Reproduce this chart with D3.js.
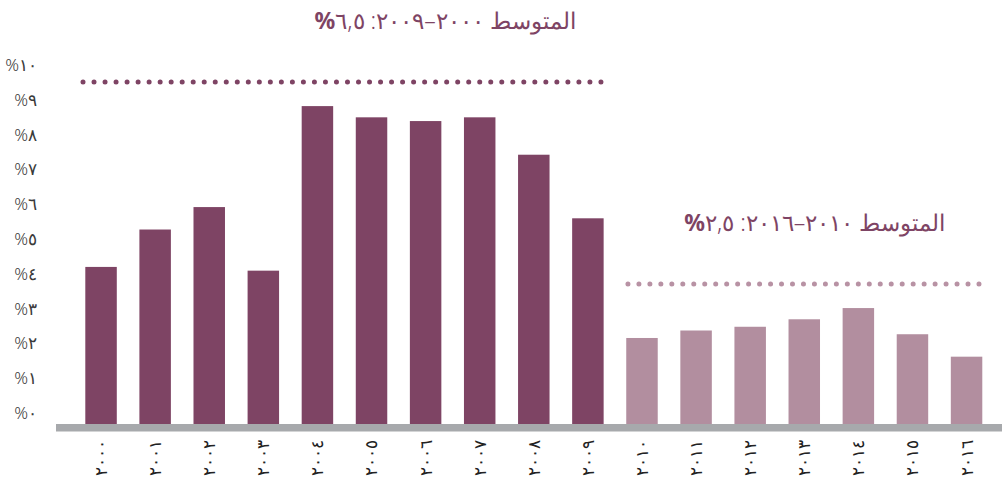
<!DOCTYPE html>
<html lang="ar">
<head>
<meta charset="utf-8">
<script src="https://d3js.org/d3.v7.min.js"></script>
<style>
    body { margin: 0; background: #fff; }
    #chart-area { width: 1002px; height: 489px; }
    text { font-family: "Noto Sans", "DejaVu Sans", sans-serif; font-weight: 300; }
</style>
</head>
<body>
<div id="chart-area"></div>
<script>
// growth per year (%)
let years = [2000, 2001, 2002, 2003, 2004, 2005, 2006, 2007, 2008, 2009,
             2010, 2011, 2012, 2013, 2014, 2015, 2016];
let growth = [4.2, 5.2, 5.8, 4.1, 8.5, 8.2, 8.1, 8.2, 7.2, 5.5,
              2.3, 2.5, 2.6, 2.8, 3.1, 2.4, 1.8];
let periods = [[2000, 2009], [2010, 2016]];
let avgLabel = "المتوسط";
let yTicks = [0, 1, 2, 3, 4, 5, 6, 7, 8, 9, 10];

/* * * * * * * * * * * * * *
*        GrowthVis         *
* * * * * * * * * * * * * */

class GrowthVis {
    constructor(parentElement) {
        this.parentElement = parentElement;
        this.initVis();
    }

    initVis() {
        let vis = this;

        vis.width = 1002;
        vis.height = 489;

        vis.svg = d3.select("#" + vis.parentElement).append("svg")
            .attr("width", vis.width)
            .attr("height", vis.height);

        vis.colors = ["#7e4464", "#b28e9f"];
        vis.dotColors = ["#7e4464", "#b892a4"];
        // how far the average label sits in from the right end of its group
        vis.labelInset = [28, 37];

        vis.data = years.map((d, i) => ({year: d, value: growth[i], group: d < periods[1][0] ? 0 : 1}));

        // scales
        vis.x = d3.scaleBand()
            .domain(years)
            .range([74, 993.6])
            .paddingInner(0.418)
            .paddingOuter(0.209);

        vis.y = d3.scaleLinear()
            .domain([0, 10])
            .range([424, 50]);

        // tick labels sit on their own spacing in the original
        vis.yLabels = d3.scaleLinear()
            .domain([0, 10])
            .range([413, 65]);

        vis.wrangleData();
    }

    toArabic(str) {
        return String(str).replace(/[0-9]/g, c => "٠١٢٣٤٥٦٧٨٩"[+c]).replace(".", ",");
    }

    wrangleData() {
        let vis = this;

        vis.groups = periods.map((p, i) => {
            let rows = vis.data.filter(d => d.year >= p[0] && d.year <= p[1]);
            return {
                start: p[0],
                end: p[1],
                index: i,
                avg: d3.mean(rows, d => d.value),
                max: d3.max(rows, d => d.value)
            };
        });

        vis.updateVis();
    }

    updateVis() {
        let vis = this;

        // y axis labels
        let yAxis = d3.axisLeft(vis.yLabels)
            .tickValues(yTicks)
            .tickSize(0)
            .tickPadding(0)
            .tickFormat(d => vis.toArabic(d) + "%");

        vis.svg.append("g")
            .attr("class", "y-axis")
            .attr("transform", "translate(37,0)")
            .call(yAxis)
            .call(g => g.select(".domain").remove())
            .selectAll("text")
            .attr("direction", "rtl")
            .attr("text-anchor", "start")
            .attr("fill", "#3a3a3a")
            .style("font-size", "17px");

        // bars
        vis.svg.selectAll(".bar")
            .data(vis.data)
            .enter().append("rect")
            .attr("class", "bar")
            .attr("x", d => vis.x(d.year))
            .attr("y", d => vis.y(d.value))
            .attr("width", vis.x.bandwidth())
            .attr("height", d => vis.y(0) - vis.y(d.value))
            .attr("fill", d => vis.colors[d.group]);

        // grey base line
        vis.svg.append("rect")
            .attr("x", 56)
            .attr("y", vis.y(0))
            .attr("width", vis.width - 56)
            .attr("height", 7.5)
            .attr("fill", "#a7a9ac");

        // x axis labels, rotated
        let xAxis = d3.axisBottom(vis.x)
            .tickSize(0)
            .tickPadding(0)
            .tickFormat(d => vis.toArabic(d));

        vis.svg.append("g")
            .attr("class", "x-axis")
            .attr("transform", "translate(0,440)")
            .call(xAxis)
            .call(g => g.select(".domain").remove())
            .selectAll("text")
            .attr("transform", "rotate(-90)")
            .attr("x", 0)
            .attr("y", 0)
            .attr("dy", "0.35em")
            .attr("text-anchor", "end")
            .attr("fill", "#222")
            .style("font-size", "17px");

        // average annotations
        let ann = vis.svg.selectAll(".avg")
            .data(vis.groups)
            .enter().append("g")
            .attr("class", "avg");

        ann.append("line")
            .attr("x1", d => d.index === 0 ? vis.x(d.start) - 2.3 : vis.x(d.start) + 1.7)
            .attr("x2", d => vis.x(d.end) + vis.x.bandwidth() + (d.index === 0 ? -1.2 : -2.9))
            .attr("y1", d => vis.y(d.max) - 24)
            .attr("y2", d => vis.y(d.max) - 24)
            .attr("stroke", d => vis.dotColors[d.index])
            .attr("stroke-width", 5)
            .attr("stroke-linecap", "round")
            .attr("stroke-dasharray", d => d.index === 0 ? "0 11.02" : "0 10.97");

        let label = ann.append("text")
            .attr("x", d => vis.x(d.end) + vis.x.bandwidth() - vis.labelInset[d.index])
            .attr("y", d => vis.y(d.max) - 77)
            .attr("direction", "rtl")
            .attr("text-anchor", "start")
            .attr("fill", "#7e4464")
            .style("font-size", "23px");

        label.append("tspan")
            .text(d => `${avgLabel} ${vis.toArabic(d.start)}–${vis.toArabic(d.end)}: ${vis.toArabic(d.avg.toFixed(1))}`);
        label.append("tspan")
            .attr("font-weight", "bold")
            .text("%");
    }
}

new GrowthVis("chart-area");
</script>
</body>
</html>
